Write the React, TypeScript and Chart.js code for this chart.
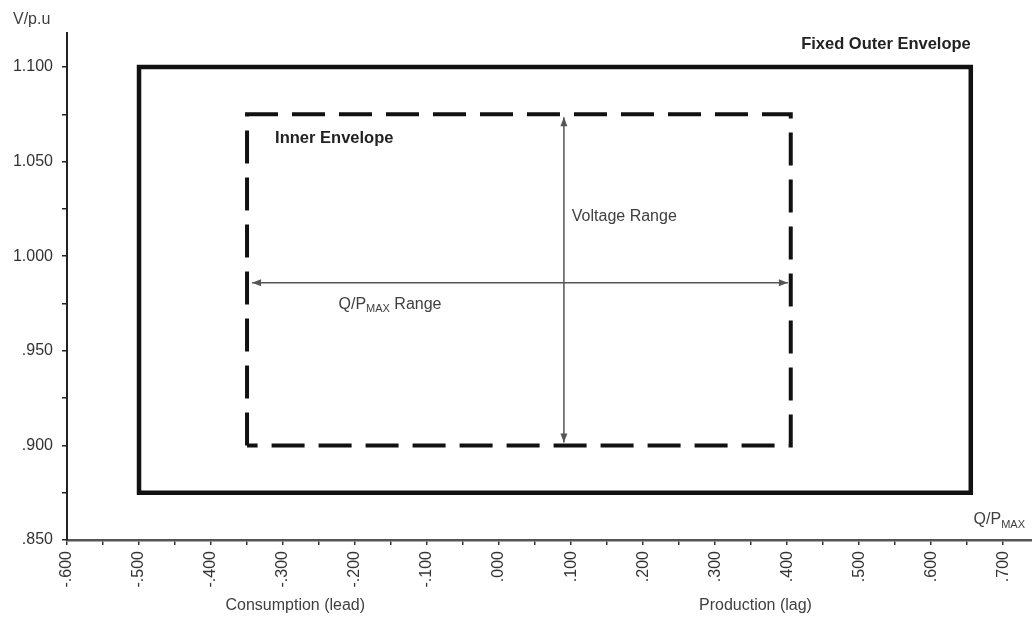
import React, { useEffect, useRef } from "react";
import { Chart, registerables } from "chart.js";

Chart.register(...registerables);

// ---- data ----
const outerQ = [-0.5, -0.5, 0.655, 0.655, -0.5, -0.5];
const outerV = [0.875, 1.1, 1.1, 0.875, 0.875, 0.9];
const innerQ = [-0.35, -0.35, 0.405, 0.405, -0.35];
const innerV = [0.9, 1.075, 1.075, 0.9, 0.9];
const qRangeQ = [-0.343, 0.401];
const qRangeV = [0.986, 0.986];
const vRangeQ = [0.09, 0.09];
const vRangeV = [1.0735, 0.9015];

const xMajorTicks = [-0.6, -0.5, -0.4, -0.3, -0.2, -0.1, 0, 0.1, 0.2, 0.3, 0.4, 0.5, 0.6, 0.7];
const xMinorTicks = [-0.55, -0.45, -0.35, -0.25, -0.15, -0.05, 0.05, 0.15, 0.25, 0.35, 0.45, 0.55, 0.65];
const yMajorTicks = [0.85, 0.9, 0.95, 1.0, 1.05, 1.1];
const yMinorTicks = [0.875, 0.925, 0.975, 1.025, 1.075];
const xLimits = [-0.6, 0.74];
const yLimits = [0.85, 1.118];

const pts = (xs: number[], ys: number[]) => xs.map((x, i) => ({ x, y: ys[i] }));
const fmt = (v: number) => v.toFixed(3).replace(/^(-?)0\./, "$1.");
const isMajor = (v: number, list: number[]) => list.some((m) => Math.abs(m - v) < 1e-9);

type Seg = { t: string; sub?: boolean };

const FONT = "'Liberation Sans', Arial, sans-serif";

function drawSegs(ctx: CanvasRenderingContext2D, segs: Seg[], x: number, y: number, align: string, size: number, bold: boolean, color: string) {
  const mainFont = `${bold ? "bold " : ""}${size}px ${FONT}`;
  const subFont = `${bold ? "bold " : ""}${Math.round(size * 0.68)}px ${FONT}`;
  let total = 0;
  for (const s of segs) {
    ctx.font = s.sub ? subFont : mainFont;
    total += ctx.measureText(s.t).width;
  }
  let cx = align === "right" ? x - total : align === "center" ? x - total / 2 : x;
  ctx.fillStyle = color;
  ctx.textBaseline = "middle";
  ctx.textAlign = "left";
  for (const s of segs) {
    ctx.font = s.sub ? subFont : mainFont;
    ctx.fillText(s.t, cx, s.sub ? y + size * 0.3 : y);
    cx += ctx.measureText(s.t).width;
  }
}

const annotationPlugin = {
  id: "annotations",
  afterDatasetsDraw(chart: any) {
    const { ctx, chartArea, scales } = chart;
    const xs = scales.x;
    const ys = scales.y;
    ctx.save();
    // arrowheads
    chart.data.datasets.forEach((ds: any, i: number) => {
      if (!ds.arrows) return;
      const meta = chart.getDatasetMeta(i);
      const a = meta.data[0];
      const b = meta.data[meta.data.length - 1];
      const head = (from: any, to: any) => {
        const ang = Math.atan2(to.y - from.y, to.x - from.x);
        const L = 9, W = 3.5;
        ctx.beginPath();
        ctx.moveTo(to.x, to.y);
        ctx.lineTo(to.x - L * Math.cos(ang) + W * Math.sin(ang), to.y - L * Math.sin(ang) - W * Math.cos(ang));
        ctx.lineTo(to.x - L * Math.cos(ang) - W * Math.sin(ang), to.y - L * Math.sin(ang) + W * Math.cos(ang));
        ctx.closePath();
        ctx.fillStyle = ds.borderColor;
        ctx.fill();
      };
      head(a, b);
      head(b, a);
    });

    const labelColor = "#404040";
    drawSegs(ctx, [{ t: "Fixed Outer Envelope" }], xs.getPixelForValue(0.655), ys.getPixelForValue(1.1117), "right", 16.5, true, "#222");
    drawSegs(ctx, [{ t: "Inner Envelope" }], xs.getPixelForValue(-0.311), ys.getPixelForValue(1.0625), "left", 16.5, true, "#222");
    drawSegs(ctx, [{ t: "Voltage Range" }], xs.getPixelForValue(0.101), ys.getPixelForValue(1.021), "left", 16, false, labelColor);
    drawSegs(ctx, [{ t: "Q/P" }, { t: "MAX", sub: true }, { t: " Range" }], xs.getPixelForValue(-0.223), ys.getPixelForValue(0.9745), "left", 16, false, labelColor);
    // axis titles
    drawSegs(ctx, [{ t: "V/p.u" }], chartArea.left - 54, chartArea.top - 13, "left", 16, false, labelColor);
    drawSegs(ctx, [{ t: "Q/P" }, { t: "MAX", sub: true }], chartArea.right - 7, chartArea.bottom - 20, "right", 16, false, labelColor);
    drawSegs(ctx, [{ t: "Consumption (lead)" }], xs.getPixelForValue(-0.283), chartArea.bottom + 66, "center", 16, false, labelColor);
    drawSegs(ctx, [{ t: "Production (lag)" }], xs.getPixelForValue(0.356), chartArea.bottom + 66, "center", 16, false, labelColor);
    ctx.restore();
  },
};

export default function App() {
  const ref = useRef<HTMLCanvasElement | null>(null);

  useEffect(() => {
    document.body.style.margin = "0";
    const canvas = ref.current;
    if (!canvas) return;
    const chart = new Chart(canvas, {
      type: "scatter",
      data: {
        datasets: [
          {
            data: pts(outerQ, outerV),
            showLine: true,
            borderColor: "#111",
            borderWidth: 4.5,
            pointRadius: 0,
            borderJoinStyle: "miter",
            borderCapStyle: "butt",
          } as any,
          {
            data: pts(innerQ, innerV),
            showLine: true,
            borderColor: "#111",
            borderWidth: 4,
            borderDash: [33, 14],
            pointRadius: 0,
            borderJoinStyle: "miter",
            borderCapStyle: "butt",
          } as any,
          {
            data: pts(qRangeQ, qRangeV),
            showLine: true,
            borderColor: "#555",
            borderWidth: 1.5,
            pointRadius: 0,
            arrows: true,
          } as any,
          {
            data: pts(vRangeQ, vRangeV),
            showLine: true,
            borderColor: "#555",
            borderWidth: 1.5,
            pointRadius: 0,
            arrows: true,
          } as any,
        ],
      },
      options: {
        animation: false,
        responsive: false,
        layout: { padding: { top: 33, right: 0, bottom: 0, left: 0 } },
        plugins: { legend: { display: false }, tooltip: { enabled: false } },
        scales: {
          x: {
            type: "linear",
            min: xLimits[0],
            max: xLimits[1],
            afterBuildTicks: (scale: any) => {
              scale.ticks = [...xMajorTicks, ...xMinorTicks].sort((a, b) => a - b).map((value) => ({ value }));
            },
            afterFit: (scale: any) => {
              scale.height = 80;
            },
            ticks: {
              autoSkip: false,
              minRotation: 90,
              maxRotation: 90,
              padding: 6,
              color: "#333",
              font: { family: FONT, size: 16 },
              callback: (v: any) => (isMajor(Number(v), xMajorTicks) ? fmt(Number(v)) : ""),
            },
            grid: { drawOnChartArea: false, drawTicks: true, tickLength: 5, color: "#333", lineWidth: 1.5 },
            border: { display: true, color: "#555", width: 2.5 },
          },
          y: {
            type: "linear",
            min: yLimits[0],
            max: yLimits[1],
            afterBuildTicks: (scale: any) => {
              scale.ticks = [...yMajorTicks, ...yMinorTicks].sort((a, b) => a - b).map((value) => ({ value }));
            },
            afterFit: (scale: any) => {
              scale.width = 67;
            },
            ticks: {
              autoSkip: false,
              padding: 9,
              color: "#333",
              font: { family: FONT, size: 16 },
              callback: (v: any) => (isMajor(Number(v), yMajorTicks) ? fmt(Number(v)) : ""),
            },
            grid: { drawOnChartArea: false, drawTicks: true, tickLength: 5, color: "#222", lineWidth: 1.5 },
            border: { display: true, color: "#222", width: 2 },
          },
        },
      },
      plugins: [annotationPlugin],
    } as any);
    return () => chart.destroy();
  }, []);

  return (
    <div style={{ width: 1032, height: 620, background: "#fff" }}>
      <canvas ref={ref} width={1032} height={620} style={{ display: "block" }} />
    </div>
  );
}
